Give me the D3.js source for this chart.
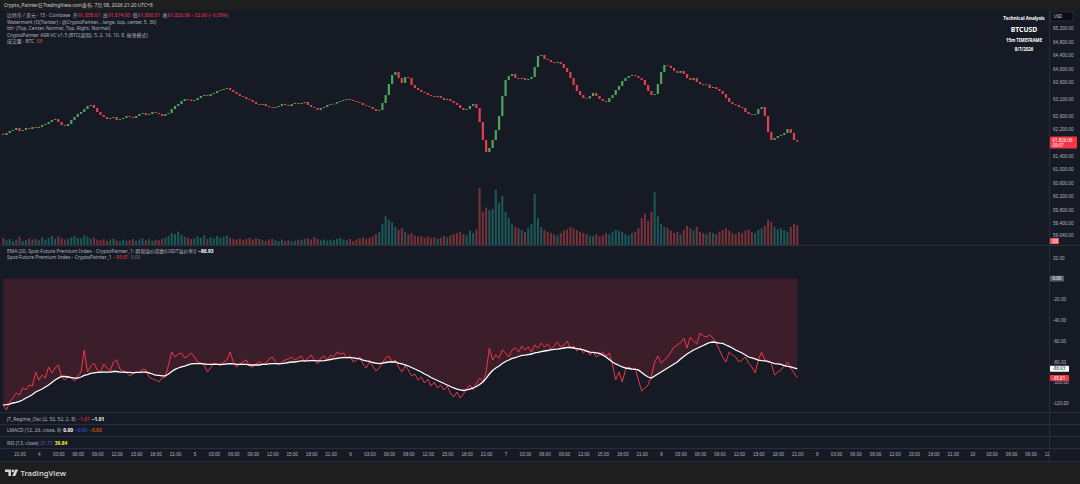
<!DOCTYPE html>
<html>
<head>
<meta charset="utf-8">
<script src="https://cdn.jsdelivr.net/npm/d3@7"></script>
<style>
  body { margin: 0; background: #1e1e1e; }
  svg { display: block; font-family: "Noto Sans", "Noto Sans CJK SC", sans-serif; }
</style>
</head>
<body>
<script>
//30 minute candles, first one opens Aug 3 18:30
var startTime = new Date(2026, 7, 3, 18, 30);
var firstOpen = 62060;

//BTCUSD close prices
var closes = [
  62023, 62083, 62142, 62172, 62232, 62142, 62172, 62232, 62202, 62262,
  62232, 62262, 62321, 62351, 62411, 62470, 62500, 62411, 62321, 62291,
  62351, 62470, 62560, 62649, 62709, 62798, 62888, 62918, 62828, 62709,
  62620, 62560, 62500, 62530, 62560, 62470, 62500, 62530, 62590, 62560,
  62530, 62590, 62649, 62679, 62620, 62649, 62709, 62679, 62649, 62590,
  62649, 62679, 62798, 62888, 62947, 63037, 63097, 63080, 63037, 63067,
  63127, 63186, 63216, 63186, 63246, 63276, 63335, 63365, 63395, 63425,
  63365, 63306, 63246, 63186, 63156, 63097, 63067, 63007, 62947, 62918,
  62947, 62888, 62858, 62828, 62858, 62888, 62947, 62918, 62888, 62947,
  62977, 62947, 62977, 63007, 62918, 62858, 62828, 62769, 62828, 62858,
  62918, 62947, 62960, 63007, 63037, 63067, 63097, 63067, 63037, 63007,
  62977, 62918, 62888, 62858, 62798, 62739, 62769, 62977, 63216, 63544,
  63813, 63902, 63723, 63574, 63753, 63723, 63515, 63425, 63365, 63306,
  63276, 63216, 63186, 63156, 63186, 63127, 63067, 63097, 63037, 62977,
  62918, 62828, 62769, 62798, 62888, 62947, 62828, 62411, 61874, 61516,
  61635, 61874, 62172, 62590, 63186, 63664, 63783, 63843, 63723, 63693,
  63723, 63664, 63693, 63753, 64051, 64380, 64409, 64290, 64260, 64201,
  64171, 64201, 64141, 64022, 63902, 63723, 63515, 63335, 63216, 63127,
  63110, 63186, 63276, 63186, 63097, 63037, 63007, 63127, 63216, 63365,
  63485, 63634, 63723, 63783, 63813, 63783, 63723, 63664, 63515, 63335,
  63216, 63246, 63544, 63902, 64111, 64090, 64022, 63932, 63873, 63932,
  63843, 63723, 63664, 63723, 63604, 63544, 63515, 63530, 63425, 63455,
  63395, 63335, 63246, 63127, 63007, 62947, 62918, 62858, 62828, 62709,
  62649, 62620, 62649, 62798, 62858, 62590, 62112, 61874, 61933, 61993,
  62023, 62083, 62202, 62083, 61874, 61826.06];

//volume, BTC
var volumes = [
  12, 8, 10, 6, 9, 14, 7, 8, 11, 9,
  10, 8, 13, 9, 12, 15, 10, 14, 11, 9,
  10, 13, 15, 12, 11, 16, 14, 10, 12, 9,
  8, 10, 7, 9, 11, 8, 6, 9, 7, 8,
  10, 7, 9, 11, 8, 10, 7, 9, 8, 10,
  12, 15, 20, 18, 22, 17, 14, 12, 10, 11,
  14, 12, 16, 10, 13, 11, 15, 12, 14, 16,
  12, 10, 9, 11, 8, 10, 12, 9, 11, 10,
  8, 7, 9, 10, 8, 6, 9, 7, 8, 6,
  7, 9, 8, 10, 11, 9, 13, 10, 8, 9,
  7, 9, 8, 10, 12, 9, 8, 10, 7, 9,
  11, 13, 10, 12, 14, 18, 22, 35, 48, 42,
  38, 30, 25, 28, 22, 18, 20, 16, 14, 15,
  12, 14, 11, 13, 10, 12, 15, 13, 16, 18,
  20, 22, 18, 16, 24, 20, 26, 95, 55, 62,
  58, 60, 92, 70, 82, 55, 45, 35, 30, 28,
  25, 22, 28, 35, 85, 45, 30, 25, 22, 20,
  18, 16, 20, 24, 26, 30, 28, 25, 22, 20,
  18, 16, 15, 18, 14, 16, 20, 18, 22, 25,
  24, 22, 18, 16, 20, 22, 28, 45, 52, 40,
  55, 88, 48, 35, 30, 28, 24, 20, 22, 18,
  25, 32, 28, 24, 30, 22, 20, 18, 22, 20,
  18, 22, 25, 28, 24, 20, 18, 22, 20, 24,
  26, 22, 20, 25, 28, 32, 42, 38, 30, 26,
  28, 25, 22, 30, 35, 33];

//Spot-Future Premium Index
var premium = [
  -121.9, -126.7, -119.0, -115.2, -110.3, -112.3, -105.5, -107.4, -102.6, -103.6,
  -90.1, -97.8, -93.0, -95.9, -85.2, -91.0, -86.2, -83.3, -94.9, -97.8,
  -93.9, -95.9, -98.8, -93.9, -90.1, -68.8, -90.1, -84.3, -81.4, -88.1,
  -91.0, -82.3, -86.2, -89.1, -80.4, -78.5, -87.2, -89.1, -90.1, -93.9,
  -92.0, -90.1, -91.0, -87.2, -88.1, -94.9, -96.8, -97.8, -99.7, -95.9,
  -94.9, -83.3, -70.8, -75.6, -72.7, -71.7, -76.5, -74.6, -71.7, -75.6,
  -80.4, -81.4, -83.3, -90.1, -86.2, -81.4, -82.3, -84.3, -80.4, -78.5,
  -70.8, -80.4, -85.2, -82.3, -80.4, -78.5, -84.3, -85.2, -82.3, -80.4,
  -82.3, -81.4, -77.5, -75.6, -80.4, -83.3, -80.4, -78.5, -77.5, -75.6,
  -78.5, -76.5, -74.6, -80.4, -76.5, -73.7, -78.5, -82.3, -76.5, -74.6,
  -78.5, -73.7, -75.6, -70.8, -72.7, -71.7, -76.5, -74.6, -80.4, -78.5,
  -75.6, -82.3, -86.2, -80.4, -84.3, -89.1, -86.2, -81.4, -76.5, -74.6,
  -80.4, -78.5, -85.2, -90.1, -84.3, -88.1, -93.9, -92.0, -97.8, -94.9,
  -100.7, -96.8, -103.6, -99.7, -105.5, -102.6, -107.4, -103.6, -110.3, -114.2,
  -109.4, -115.2, -111.3, -106.5, -102.6, -107.4, -100.7, -95.9, -99.7, -90.1,
  -66.9, -78.5, -73.7, -76.5, -68.8, -71.7, -75.6, -68.8, -66.9, -70.8,
  -65.0, -68.8, -65.9, -70.8, -64.0, -66.9, -62.1, -65.9, -63.0, -67.9,
  -65.0, -61.1, -65.9, -64.0, -60.1, -66.9, -65.0, -69.8, -66.9, -71.7,
  -68.8, -73.7, -70.8, -75.6, -73.7, -70.8, -74.6, -71.7, -83.3, -97.8,
  -90.1, -99.7, -88.1, -85.2, -87.2, -86.2, -97.8, -108.4, -105.5, -102.6,
  -93.9, -80.4, -74.6, -81.4, -78.5, -75.6, -70.8, -65.9, -64.0, -62.1,
  -57.2, -66.9, -56.3, -60.1, -63.0, -52.4, -55.3, -56.3, -54.3, -57.2,
  -62.1, -68.8, -75.6, -80.4, -70.8, -73.7, -75.6, -80.4, -78.5, -75.6,
  -81.4, -85.2, -91.0, -78.5, -70.8, -78.5, -80.4, -81.4, -93.0, -90.1,
  -88.1, -84.3, -80.4, -86.2, -91.0, -95.81];

//EMA (20) of the premium index, as drawn
var premiumEma = [
  -121.9, -121.5, -121.0, -120.0, -119.5, -118.5, -117.1, -115.2, -113.7, -111.8,
  -109.4, -107.9, -106.5, -104.5, -102.6, -100.2, -97.8, -95.9, -94.4, -94.4,
  -94.9, -95.4, -95.9, -95.9, -94.9, -93.4, -92.5, -91.5, -91.0, -90.5,
  -90.1, -90.1, -90.1, -90.1, -89.6, -89.6, -90.1, -90.1, -90.5, -90.5,
  -91.0, -90.5, -90.5, -90.1, -90.1, -91.0, -92.0, -93.0, -93.4, -93.9,
  -93.9, -92.0, -89.6, -87.6, -86.2, -85.2, -84.3, -83.3, -82.3, -81.9,
  -81.9, -81.9, -82.3, -82.8, -82.8, -82.8, -82.8, -82.8, -82.8, -82.3,
  -81.9, -82.3, -82.8, -82.8, -82.8, -82.8, -83.3, -83.3, -83.3, -83.3,
  -82.8, -82.8, -82.3, -81.9, -81.9, -81.9, -81.9, -81.4, -80.9, -80.4,
  -80.4, -79.9, -79.4, -79.4, -79.4, -79.0, -79.0, -79.4, -79.4, -79.0,
  -78.5, -78.0, -77.5, -77.0, -76.5, -76.1, -76.1, -76.1, -76.5, -77.0,
  -77.5, -78.5, -79.4, -79.9, -80.9, -81.4, -81.9, -81.4, -80.9, -80.4,
  -80.4, -80.4, -81.4, -82.3, -83.3, -84.3, -85.7, -87.2, -88.6, -90.1,
  -92.0, -93.4, -95.4, -96.8, -98.3, -99.7, -101.2, -102.6, -104.1, -105.5,
  -106.5, -107.4, -107.9, -107.4, -106.5, -105.5, -104.1, -102.1, -99.7, -96.3,
  -92.0, -88.6, -86.2, -84.3, -81.9, -79.9, -78.5, -77.0, -76.1, -75.1,
  -74.1, -73.7, -73.2, -72.7, -71.7, -71.2, -70.3, -69.8, -69.3, -68.8,
  -68.3, -67.9, -67.4, -66.9, -66.4, -66.4, -66.9, -67.4, -67.9, -68.8,
  -69.8, -70.8, -71.2, -71.7, -72.2, -73.7, -75.6, -78.0, -80.4, -82.3,
  -83.8, -85.2, -86.2, -86.7, -87.2, -87.6, -88.1, -90.5, -93.0, -94.9,
  -95.9, -93.9, -92.0, -90.1, -88.1, -86.2, -84.3, -82.3, -80.4, -77.5,
  -75.1, -72.7, -70.8, -68.8, -67.4, -65.9, -64.5, -63.0, -61.6, -61.1,
  -61.6, -62.1, -62.5, -64.0, -65.4, -66.9, -68.8, -70.3, -71.7, -73.7,
  -75.6, -76.5, -77.5, -78.5, -79.0, -79.4, -79.9, -80.9, -81.9, -82.3,
  -82.8, -83.8, -84.7, -85.2, -86.2, -86.93];

//axis tick labels
var priceTicks = [65200, 64800, 64400, 64000, 63600, 63100, 62600, 62200,
                  61400, 61000, 60600, 60200, 59800, 59400, 59040];
var premiumTicks = [20, -20, -40, -60, -80, -100, -120];
var timeTicks = d3.timeHour.range(new Date(2026, 7, 3, 21), new Date(2026, 7, 10, 13), 3);

//legend texts
var titleText = "Crypto_Painter在TradingView.com发布, 7月 08, 2026 21:20 UTC+8";
var ohlcLabels = ["开", "高", "低", "收"];
var ohlcValues = ["61,858.61", "61,874.00", "61,800.01", "61,826.06"];
var legendLines = [
  "Watermark (O(Twitter) : @CryptoPainter, , large, top, center, 5, 30)",
  "ttt^ (Top, Center, Normal, Top, Right, Normal)",
  "CryptoPainter ASR-VC v1.5 (BTC(调用), 5, 2, 16, 10, 8, 振荡模式)"];

var textColor = "#b2b5be";
var upColor = "#4fa35a";
var downColor = "#e5404f";
var redLabel = "#f23645";
var sepColor = "#2a2e39";
var legendSize = 4.9;

//Build candle rows
var candles = closes.map(function (c, i) {
  var o = i === 0 ? firstOpen : closes[i - 1];
  return { t: d3.timeMinute.offset(startTime, 30 * i), o: o, c: c, v: volumes[i] };
});

//Create the SVG Viewport
var svg = d3.select("body").append("svg")
  .attr("width", 1080)
  .attr("height", 484);

svg.append("rect").attr("width", 1080).attr("height", 484).attr("fill", "#1e1e1e");
svg.append("rect").attr("x", 0).attr("y", 10).attr("width", 1080).attr("height", 452)
  .attr("fill", "#161a25");

//Scales
var x = d3.scaleTime()
  .domain([new Date(2026, 7, 3, 18, 0), new Date(2026, 7, 10, 12, 0)])
  .range([0, 1050]);
var yPrice = d3.scaleLinear().domain([59040, 65200]).range([235, 28.5]);
var yVol = d3.scaleLinear().domain([0, 100]).range([245, 185]);
var yPrem = d3.scaleLinear().domain([-120, 20]).range([403, 258]);

//Clip to the plot area
svg.append("clipPath").attr("id", "plot")
  .append("rect").attr("x", 0).attr("y", 10).attr("width", 1049).attr("height", 452);
svg.append("clipPath").attr("id", "timeclip")
  .append("rect").attr("x", 0).attr("y", -5).attr("width", 1049).attr("height", 15);

//Pane separators
[245.5, 412.5, 424.5, 436.5, 448.5, 461.5].forEach(function (yy) {
  svg.append("line").attr("x1", 0).attr("x2", 1080).attr("y1", yy).attr("y2", yy)
    .attr("stroke", sepColor).attr("stroke-width", 1);
});
svg.append("line").attr("x1", 1049.5).attr("x2", 1049.5).attr("y1", 10).attr("y2", 462)
  .attr("stroke", sepColor).attr("stroke-width", 1);

var plot = svg.append("g").attr("clip-path", "url(#plot)");

//Volume bars
plot.append("g").selectAll("rect")
  .data(candles)
  .enter()
  .append("rect")
  .attr("x", function (d) { return x(d.t) - 1; })
  .attr("width", 2)
  .attr("y", function (d) { return yVol(d.v); })
  .attr("height", function (d) { return yVol(0) - yVol(d.v); })
  .attr("fill", function (d) { return d.c >= d.o ? "#26a69a" : "#ef5350"; })
  .attr("opacity", 0.45);

//Candles
plot.append("g").selectAll("rect")
  .data(candles)
  .enter()
  .append("rect")
  .attr("x", function (d) { return x(d.t) - 1.1; })
  .attr("width", 2.2)
  .attr("y", function (d) { return yPrice(Math.max(d.o, d.c)); })
  .attr("height", function (d) { return Math.max(0.8, Math.abs(yPrice(d.o) - yPrice(d.c))); })
  .attr("fill", function (d) { return d.c >= d.o ? upColor : downColor; });

//Premium index pane
var premRows = premium.map(function (p, i) {
  return { t: candles[i].t, p: p, e: premiumEma[i] };
});

plot.append("path")
  .datum(premRows)
  .attr("d", d3.area()
    .x(function (d) { return x(d.t); })
    .y0(yPrem(0))
    .y1(function (d) { return yPrem(d.e); }))
  .attr("fill", "rgba(242,54,69,0.17)");

plot.append("path")
  .datum(premRows)
  .attr("d", d3.line()
    .x(function (d) { return x(d.t); })
    .y(function (d) { return yPrem(d.p); }))
  .attr("fill", "none")
  .attr("stroke", "#f23645")
  .attr("stroke-width", 1);

plot.append("path")
  .datum(premRows)
  .attr("d", d3.line()
    .x(function (d) { return x(d.t); })
    .y(function (d) { return yPrem(d.e); }))
  .attr("fill", "none")
  .attr("stroke", "#ffffff")
  .attr("stroke-width", 1.3);

//Price axis
var priceAxis = svg.append("g")
  .attr("transform", "translate(1050,0)")
  .call(d3.axisRight(yPrice).tickValues(priceTicks).tickSize(0).tickPadding(3)
    .tickFormat(d3.format(",.2f")));
priceAxis.select(".domain").remove();
priceAxis.selectAll("text").attr("fill", textColor).attr("font-size", 4.6);

//Premium axis
var premAxis = svg.append("g")
  .attr("transform", "translate(1050,0)")
  .call(d3.axisRight(yPrem).tickValues(premiumTicks).tickSize(0).tickPadding(3)
    .tickFormat(function (d) { return d3.format(".2f")(d).replace("−", "-"); }));
premAxis.select(".domain").remove();
premAxis.selectAll("text").attr("fill", textColor).attr("font-size", 4.6);

//Time axis
var timeAxis = svg.append("g")
  .attr("transform", "translate(0,449)")
  .attr("clip-path", "url(#timeclip)")
  .call(d3.axisBottom(x).tickValues(timeTicks).tickSize(0).tickPadding(4)
    .tickFormat(function (d) {
      return d.getHours() === 0 ? String(d.getDate()) : d3.timeFormat("%H:%M")(d);
    }));
timeAxis.select(".domain").remove();
timeAxis.selectAll("text").attr("fill", textColor).attr("font-size", 4.6);

//Axis boxes
function axisBox(yc, w, h, fill, label, color, label2) {
  svg.append("rect").attr("x", 1050).attr("y", yc - h / 2).attr("width", w).attr("height", h)
    .attr("rx", 0.8).attr("fill", fill);
  svg.append("text").attr("x", 1052.5).attr("y", label2 ? yc - 0.6 : yc + 1.6)
    .attr("font-size", 4.4).attr("fill", color).text(label);
  if (label2) {
    svg.append("text").attr("x", 1052.5).attr("y", yc + 4.6)
      .attr("font-size", 4.4).attr("fill", color).text(label2);
  }
}
axisBox(yPrice(61826.06) + 1, 27, 12, "#f23645", "61,826.06", "#ffffff", "09:07");
axisBox(241, 9, 6, "#f0606a", "33", "#ffffff");
axisBox(yPrem(0), 14, 5.8, "#5d606b", "0.00", "#ffffff");
axisBox(yPrem(-86.93), 19, 6, "#ffffff", "-86.93", "#131722");
axisBox(yPrem(-95.81), 19, 6, "#f23645", "-95.81", "#ffffff");

//USD box
svg.append("rect").attr("x", 1051).attr("y", 12).attr("width", 22).attr("height", 9)
  .attr("fill", "#0b0d12").attr("stroke", "#363a45").attr("stroke-width", 0.6);
svg.append("text").attr("x", 1053.5).attr("y", 18.2).attr("font-size", 4.4)
  .attr("fill", "#d1d4dc").text("USD");

//Top-right watermark text
var wm = [
  { t: "Technical Analysis", y: 19.8, s: 4.6 },
  { t: "BTCUSD", y: 31.5, s: 6.8 },
  { t: "15m TIMEFRAME", y: 41.6, s: 4.4 },
  { t: "8/7/2026", y: 50.8, s: 4.4 }];
svg.selectAll("text.wm")
  .data(wm)
  .enter()
  .append("text")
  .attr("class", "wm")
  .attr("x", 1024)
  .attr("y", function (d) { return d.y; })
  .attr("text-anchor", "middle")
  .attr("font-size", function (d) { return d.s; })
  .attr("font-weight", "bold")
  .attr("fill", "#ffffff")
  .text(function (d) { return d.t; });

//Title bar
svg.append("text").attr("x", 4).attr("y", 7.2).attr("font-size", legendSize).attr("fill", "#d1d4dc")
  .text(titleText);

//Legend helper: list of [text, color, bold, gap]
function legend(xx, yy, parts) {
  var t = svg.append("text").attr("x", xx).attr("y", yy).attr("font-size", legendSize);
  parts.forEach(function (p, i) {
    t.append("tspan").attr("dx", i === 0 ? 0 : (p[3] || 1.4))
      .attr("fill", p[1]).attr("font-weight", p[2] ? "bold" : "normal").text(p[0]);
  });
}

var ohlcParts = [["比特币 / 美元 · 15 · Coinbase", textColor]];
ohlcLabels.forEach(function (l, i) {
  ohlcParts.push([l, textColor, false, 2.5]);
  ohlcParts.push([ohlcValues[i], redLabel, false, 0.3]);
});
ohlcParts.push(["−32.60 (−0.05%)", redLabel, false, 1.8]);
legend(7, 17.2, ohlcParts);
legendLines.forEach(function (l, i) {
  legend(7, 23.8 + i * 6.5, [[l, textColor]]);
});
legend(7, 43.3, [["成交量 · BTC", textColor], ["33", "#f0606a", false, 2.2]]);

legend(7, 252.8, [["EMA (20, Spot-Future Premium Index - CryptoPainter_1: 期现溢价指数(USDT溢价率))", textColor],
  ["−86.93", "#ffffff", true, 2]]);
legend(7, 258.6, [["Spot-Future Premium Index - CryptoPainter_1", textColor],
  ["−95.81", redLabel, false, 2], ["0.00", "#787b86", false, 1.8]]);

legend(7, 420.6, [["JT_Regime_Osc (2, 52, 52, 2, 8)", textColor],
  ["−1.01", redLabel, false, 2], ["−1.01", "#ffffff", true, 1.8]]);
legend(7, 432.4, [["LMACD (12, 26, close, 9)", textColor],
  ["0.00", "#ffffff", true, 2], ["−0.00", "#2962ff", false, 1.8], ["−0.00", "#ff6d00", false, 1.8]]);
legend(7, 444.7, [["RSI (13, close)", textColor],
  ["31.71", "#7e57c2", false, 2], ["39.84", "#ffeb3b", true, 1.8]]);

//TradingView logo
var logo = svg.append("g").attr("fill", "#d1d4dc");
logo.append("path").attr("d", "M5,469.5 h6 v6.5 h-2.6 v-3.9 h-3.4 z");
logo.append("circle").attr("cx", 12.9).attr("cy", 470.9).attr("r", 1.3);
logo.append("path").attr("d", "M15.2,469.5 h3 l-3,6.5 h-3 z");
logo.append("text").attr("x", 20.5).attr("y", 476).attr("font-size", 7.6)
  .attr("font-weight", 600).attr("fill", "#d1d4dc").text("TradingView");
</script>
</body>
</html>
